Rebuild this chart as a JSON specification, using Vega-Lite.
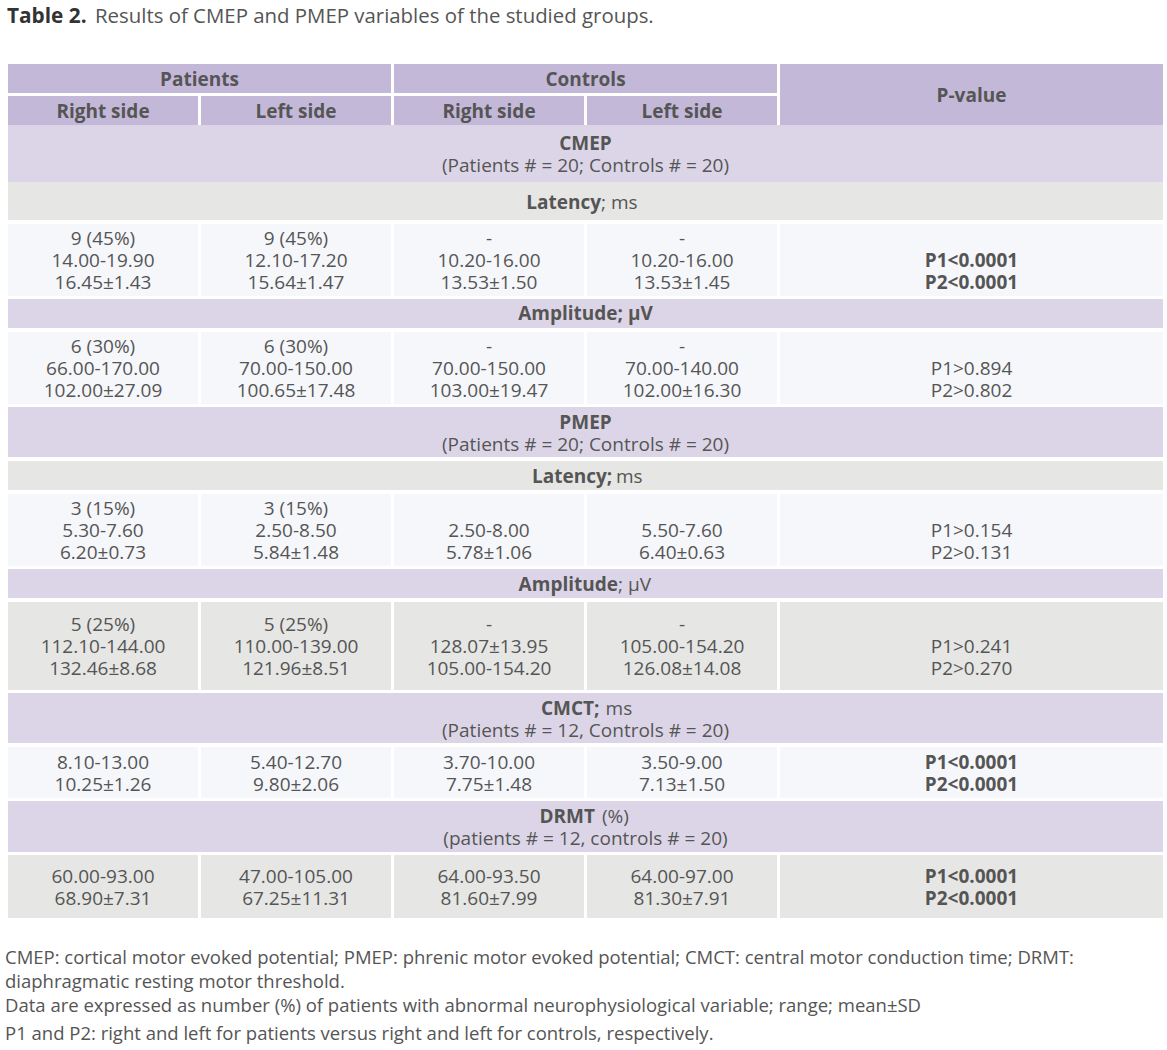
{
  "$schema": "https://vega.github.io/schema/vega-lite/v6.json",
  "width": 1167,
  "height": 1050,
  "padding": 0,
  "autosize": {"type": "none"},
  "background": "white",
  "config": {"view": {"stroke": null}},
  "datasets": {
    "cells": [
      {"c0": 0, "c1": 2, "top": 64, "bottom": 93, "kind": "head"},
      {"c0": 2, "c1": 4, "top": 64, "bottom": 93, "kind": "head"},
      {"c0": 4, "c1": 6, "top": 64, "bottom": 125, "kind": "head"},
      {"c0": 0, "c1": 1, "top": 96, "bottom": 125, "kind": "head"},
      {"c0": 1, "c1": 2, "top": 96, "bottom": 125, "kind": "head"},
      {"c0": 2, "c1": 3, "top": 96, "bottom": 125, "kind": "head"},
      {"c0": 3, "c1": 4, "top": 96, "bottom": 125, "kind": "head"},
      {"c0": 0, "c1": 6, "top": 125, "bottom": 182, "kind": "section"},
      {"c0": 0, "c1": 6, "top": 182, "bottom": 220, "kind": "grey"},
      {"c0": 0, "c1": 1, "top": 224, "bottom": 296, "kind": "light"},
      {"c0": 1, "c1": 2, "top": 224, "bottom": 296, "kind": "light"},
      {"c0": 2, "c1": 3, "top": 224, "bottom": 296, "kind": "light"},
      {"c0": 3, "c1": 4, "top": 224, "bottom": 296, "kind": "light"},
      {"c0": 4, "c1": 6, "top": 224, "bottom": 296, "kind": "light"},
      {"c0": 0, "c1": 6, "top": 299, "bottom": 328, "kind": "section"},
      {"c0": 0, "c1": 1, "top": 332, "bottom": 404, "kind": "light"},
      {"c0": 1, "c1": 2, "top": 332, "bottom": 404, "kind": "light"},
      {"c0": 2, "c1": 3, "top": 332, "bottom": 404, "kind": "light"},
      {"c0": 3, "c1": 4, "top": 332, "bottom": 404, "kind": "light"},
      {"c0": 4, "c1": 6, "top": 332, "bottom": 404, "kind": "light"},
      {"c0": 0, "c1": 6, "top": 407, "bottom": 457, "kind": "section"},
      {"c0": 0, "c1": 6, "top": 461, "bottom": 490, "kind": "grey"},
      {"c0": 0, "c1": 1, "top": 494, "bottom": 566, "kind": "light"},
      {"c0": 1, "c1": 2, "top": 494, "bottom": 566, "kind": "light"},
      {"c0": 2, "c1": 3, "top": 494, "bottom": 566, "kind": "light"},
      {"c0": 3, "c1": 4, "top": 494, "bottom": 566, "kind": "light"},
      {"c0": 4, "c1": 6, "top": 494, "bottom": 566, "kind": "light"},
      {"c0": 0, "c1": 6, "top": 569, "bottom": 598, "kind": "section"},
      {"c0": 0, "c1": 1, "top": 602, "bottom": 690, "kind": "grey"},
      {"c0": 1, "c1": 2, "top": 602, "bottom": 690, "kind": "grey"},
      {"c0": 2, "c1": 3, "top": 602, "bottom": 690, "kind": "grey"},
      {"c0": 3, "c1": 4, "top": 602, "bottom": 690, "kind": "grey"},
      {"c0": 4, "c1": 6, "top": 602, "bottom": 690, "kind": "grey"},
      {"c0": 0, "c1": 6, "top": 693, "bottom": 743, "kind": "section"},
      {"c0": 0, "c1": 1, "top": 747, "bottom": 798, "kind": "light"},
      {"c0": 1, "c1": 2, "top": 747, "bottom": 798, "kind": "light"},
      {"c0": 2, "c1": 3, "top": 747, "bottom": 798, "kind": "light"},
      {"c0": 3, "c1": 4, "top": 747, "bottom": 798, "kind": "light"},
      {"c0": 4, "c1": 6, "top": 747, "bottom": 798, "kind": "light"},
      {"c0": 0, "c1": 6, "top": 801, "bottom": 852, "kind": "section"},
      {"c0": 0, "c1": 1, "top": 855, "bottom": 918, "kind": "grey"},
      {"c0": 1, "c1": 2, "top": 855, "bottom": 918, "kind": "grey"},
      {"c0": 2, "c1": 3, "top": 855, "bottom": 918, "kind": "grey"},
      {"c0": 3, "c1": 4, "top": 855, "bottom": 918, "kind": "grey"},
      {"c0": 4, "c1": 6, "top": 855, "bottom": 918, "kind": "grey"}
    ],
    "texts": [
      {"col": 0, "y": 17, "text": "Table 2.", "s": "tb"},
      {"col": 0.4508, "y": 17, "text": "Results of CMEP and PMEP variables of the studied groups.", "s": "tn"},
      {"col": 1, "y": 80, "text": "Patients", "s": "b"},
      {"col": 3, "y": 80, "text": "Controls", "s": "b"},
      {"col": 5, "y": 96, "text": "P-value", "s": "b"},
      {"col": 0.5, "y": 112, "text": "Right side", "s": "b"},
      {"col": 1.5, "y": 112, "text": "Left side", "s": "b"},
      {"col": 2.5, "y": 112, "text": "Right side", "s": "b"},
      {"col": 3.5, "y": 112, "text": "Left side", "s": "b"},
      {"col": 3, "y": 144, "text": "CMEP", "s": "b"},
      {"col": 3, "y": 166, "text": "(Patients # = 20; Controls # = 20)", "s": "n"},
      {"col": 3.0725, "y": 203, "text": "Latency", "s": "br"},
      {"col": 3.0725, "y": 203, "text": "; ms", "s": "nl"},
      {"col": 0.5, "y": 239, "text": "9 (45%)\n14.00-19.90\n16.45±1.43", "s": "n"},
      {"col": 1.5, "y": 239, "text": "9 (45%)\n12.10-17.20\n15.64±1.47", "s": "n"},
      {"col": 2.5, "y": 239, "text": "-\n10.20-16.00\n13.53±1.50", "s": "n"},
      {"col": 3.5, "y": 239, "text": "-\n10.20-16.00\n13.53±1.45", "s": "n"},
      {"col": 5, "y": 261, "text": "P1<0.0001\nP2<0.0001", "s": "b"},
      {"col": 3, "y": 314, "text": "Amplitude; µV", "s": "b"},
      {"col": 0.5, "y": 347, "text": "6 (30%)\n66.00-170.00\n102.00±27.09", "s": "n"},
      {"col": 1.5, "y": 347, "text": "6 (30%)\n70.00-150.00\n100.65±17.48", "s": "n"},
      {"col": 2.5, "y": 347, "text": "-\n70.00-150.00\n103.00±19.47", "s": "n"},
      {"col": 3.5, "y": 347, "text": "-\n70.00-140.00\n102.00±16.30", "s": "n"},
      {"col": 5, "y": 369, "text": "P1>0.894\nP2>0.802", "s": "n"},
      {"col": 3, "y": 423, "text": "PMEP", "s": "b"},
      {"col": 3, "y": 445, "text": "(Patients # = 20; Controls # = 20)", "s": "n"},
      {"col": 3.1306, "y": 477, "text": "Latency;", "s": "br"},
      {"col": 3.15, "y": 477, "text": "ms", "s": "nl"},
      {"col": 0.5, "y": 509, "text": "3 (15%)\n5.30-7.60\n6.20±0.73", "s": "n"},
      {"col": 1.5, "y": 509, "text": "3 (15%)\n2.50-8.50\n5.84±1.48", "s": "n"},
      {"col": 2.5, "y": 531, "text": "2.50-8.00\n5.78±1.06", "s": "n"},
      {"col": 3.5, "y": 531, "text": "5.50-7.60\n6.40±0.63", "s": "n"},
      {"col": 5, "y": 531, "text": "P1>0.154\nP2>0.131", "s": "n"},
      {"col": 3.1606, "y": 585, "text": "Amplitude", "s": "br"},
      {"col": 3.1606, "y": 585, "text": "; µV", "s": "nl"},
      {"col": 0.5, "y": 625, "text": "5 (25%)\n112.10-144.00\n132.46±8.68", "s": "n"},
      {"col": 1.5, "y": 625, "text": "5 (25%)\n110.00-139.00\n121.96±8.51", "s": "n"},
      {"col": 2.5, "y": 625, "text": "-\n128.07±13.95\n105.00-154.20", "s": "n"},
      {"col": 3.5, "y": 625, "text": "-\n105.00-154.20\n126.08±14.08", "s": "n"},
      {"col": 5, "y": 647, "text": "P1>0.241\nP2>0.270", "s": "n"},
      {"col": 3.0648, "y": 709, "text": "CMCT;", "s": "br"},
      {"col": 3.0964, "y": 709, "text": "ms", "s": "nl"},
      {"col": 3, "y": 731, "text": "(Patients # = 12, Controls # = 20)", "s": "n"},
      {"col": 0.5, "y": 763, "text": "8.10-13.00\n10.25±1.26", "s": "n"},
      {"col": 1.5, "y": 763, "text": "5.40-12.70\n9.80±2.06", "s": "n"},
      {"col": 2.5, "y": 763, "text": "3.70-10.00\n7.75±1.48", "s": "n"},
      {"col": 3.5, "y": 763, "text": "3.50-9.00\n7.13±1.50", "s": "n"},
      {"col": 5, "y": 763, "text": "P1<0.0001\nP2<0.0001", "s": "b"},
      {"col": 3.0415, "y": 817, "text": "DRMT", "s": "br"},
      {"col": 3.0777, "y": 817, "text": "(%)", "s": "nl"},
      {"col": 3, "y": 839, "text": "(patients # = 12, controls # = 20)", "s": "n"},
      {"col": 0.5, "y": 877, "text": "60.00-93.00\n68.90±7.31", "s": "n"},
      {"col": 1.5, "y": 877, "text": "47.00-105.00\n67.25±11.31", "s": "n"},
      {"col": 2.5, "y": 877, "text": "64.00-93.50\n81.60±7.99", "s": "n"},
      {"col": 3.5, "y": 877, "text": "64.00-97.00\n81.30±7.91", "s": "n"},
      {"col": 5, "y": 877, "text": "P1<0.0001\nP2<0.0001", "s": "b"},
      {"col": 0, "y": 958, "text": "CMEP: cortical motor evoked potential; PMEP: phrenic motor evoked potential; CMCT: central motor conduction time; DRMT:", "s": "fn"},
      {"col": 0, "y": 982, "text": "diaphragmatic resting motor threshold.", "s": "fn"},
      {"col": 0, "y": 1006, "text": "Data are expressed as number (%) of patients with abnormal neurophysiological variable; range; mean±SD", "s": "fn"},
      {"col": 0, "y": 1034, "text": "P1 and P2: right and left for patients versus right and left for controls, respectively.", "s": "fn"}
    ]
  },
  "encoding": {
    "x": {"field": "col", "type": "quantitative", "scale": {"domain": [0, 6], "range": [8, 1166]}, "axis": null},
    "y": {"field": "y", "type": "quantitative", "scale": {"domain": [0, 1050], "range": [0, 1050]}, "axis": null},
    "text": {"field": "text", "type": "nominal"}
  },
  "layer": [
    {
      "data": {"name": "cells"},
      "mark": {"type": "rect", "x2Offset": -3},
      "encoding": {
        "x": {"field": "c0", "type": "quantitative", "scale": {"domain": [0, 6], "range": [8, 1166]}, "axis": null},
        "x2": {"field": "c1"},
        "y": {"field": "top", "type": "quantitative", "scale": {"domain": [0, 1050], "range": [0, 1050]}, "axis": null},
        "y2": {"field": "bottom"},
        "text": null,
        "color": {"field": "kind", "type": "nominal", "legend": null,
          "scale": {"domain": ["head", "section", "grey", "light"], "range": ["#c4b8d9", "#dcd5e7", "#e6e6e4", "#f6f7fb"]}}
      }
    },
    {
      "data": {"name": "texts"},
      "transform": [{"filter": "datum.s === 'n'"}],
      "mark": {"type": "text", "align": "center", "baseline": "middle", "dx": -1.5, "lineBreak": "\n", "lineHeight": 22, "font": "Open Sans", "fontSize": 19, "color": "#555555"}
    },
    {
      "data": {"name": "texts"},
      "transform": [{"filter": "datum.s === 'b'"}],
      "mark": {"type": "text", "align": "center", "baseline": "middle", "dx": -1.5, "lineBreak": "\n", "lineHeight": 22, "font": "Open Sans", "fontSize": 19, "fontWeight": "bold", "color": "#555555"}
    },
    {
      "data": {"name": "texts"},
      "transform": [{"filter": "datum.s === 'br'"}],
      "mark": {"type": "text", "align": "right", "baseline": "middle", "font": "Open Sans", "fontSize": 19, "fontWeight": "bold", "color": "#555555"}
    },
    {
      "data": {"name": "texts"},
      "transform": [{"filter": "datum.s === 'nl'"}],
      "mark": {"type": "text", "align": "left", "baseline": "middle", "font": "Open Sans", "fontSize": 19, "color": "#555555"}
    },
    {
      "data": {"name": "texts"},
      "transform": [{"filter": "datum.s === 'tb'"}],
      "mark": {"type": "text", "align": "left", "baseline": "middle", "dx": -1, "font": "Open Sans", "fontSize": 20.8, "fontWeight": "bold", "color": "#333333"}
    },
    {
      "data": {"name": "texts"},
      "transform": [{"filter": "datum.s === 'tn'"}],
      "mark": {"type": "text", "align": "left", "baseline": "middle", "font": "Open Sans", "fontSize": 20.4, "color": "#555555"}
    },
    {
      "data": {"name": "texts"},
      "transform": [{"filter": "datum.s === 'fn'"}],
      "mark": {"type": "text", "align": "left", "baseline": "middle", "dx": -3, "font": "Open Sans", "fontSize": 18.5, "color": "#555555"}
    }
  ]
}
